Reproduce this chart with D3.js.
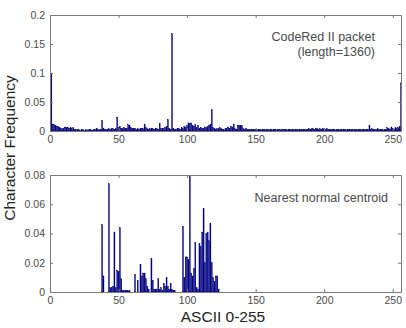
<!DOCTYPE html>
<html><head><meta charset="utf-8">
<script src="https://cdn.jsdelivr.net/npm/d3@7/dist/d3.min.js"></script>
<style>body{margin:0;background:#fff}svg{display:block;font-family:"Liberation Sans",Arial,sans-serif}</style>
</head><body><svg id="c" width="406" height="328"></svg>
<script>
// Bar positions 1..256 correspond to ASCII codes 0..255
const xTicks = [0, 50, 100, 150, 200, 250];
const topYTicks = [0, 0.05, 0.1, 0.15, 0.2];
const botYTicks = [0, 0.02, 0.04, 0.06, 0.08];

// CodeRed II packet character frequency (positions 1..256)
const codeRedFreq = [
 0.100,0.012,0.011,0.009,0.008,0.008,0.006,0.004,0.004,0.005,
 0.007,0.006,0.006,0.005,0.006,0.004,0.006,0.003,0.002,0.002,
 0.002,0.001,0.002,0.002,0.001,0.002,0.001,0.002,0.003,0.002,
 0.001,0.002,0.003,0.005,0.002,0.002,0.003,0.018,0.004,0.002,
 0.003,0.003,0.004,0.003,0.005,0.004,0.003,0.004,0.024,0.006,
 0.008,0.005,0.004,0.006,0.004,0.005,0.011,0.010,0.006,0.005,
 0.004,0.005,0.003,0.004,0.003,0.004,0.005,0.004,0.012,0.006,
 0.004,0.003,0.004,0.005,0.004,0.003,0.004,0.004,0.003,0.013,
 0.004,0.005,0.004,0.006,0.008,0.020,0.005,0.003,0.168,0.004,
 0.002,0.003,0.005,0.004,0.003,0.006,0.004,0.008,0.007,0.009,
 0.014,0.013,0.014,0.010,0.008,0.011,0.006,0.010,0.005,0.006,
 0.005,0.004,0.007,0.006,0.008,0.010,0.011,0.037,0.006,0.004,
 0.003,0.004,0.005,0.006,0.004,0.003,0.002,0.004,0.005,0.007,
 0.004,0.008,0.007,0.012,0.004,0.003,0.010,0.010,0.009,0.009,
 0.004,0.003,0.005,0.002,0.002,0.003,0.002,0.002,0.003,0.002,
 0.002,0.003,0.002,0.002,0.003,0.002,0.002,0.003,0.002,0.002,
 0.003,0.002,0.002,0.003,0.002,0.002,0.003,0.002,0.002,0.003,
 0.003,0.002,0.002,0.003,0.002,0.003,0.002,0.002,0.003,0.002,
 0.002,0.003,0.002,0.003,0.003,0.002,0.003,0.003,0.004,0.003,
 0.004,0.004,0.003,0.005,0.004,0.003,0.004,0.003,0.005,0.003,
 0.003,0.004,0.003,0.002,0.003,0.002,0.003,0.002,0.002,0.003,
 0.002,0.003,0.002,0.003,0.002,0.002,0.003,0.002,0.003,0.002,
 0.002,0.003,0.002,0.002,0.003,0.002,0.002,0.003,0.003,0.002,
 0.002,0.003,0.010,0.003,0.004,0.003,0.002,0.003,0.004,0.003,
 0.002,0.003,0.002,0.002,0.003,0.006,0.004,0.003,0.007,0.005,
 0.003,0.006,0.004,0.006,0.008,0.083
];

// Nearest normal centroid: sparse (position, value) pairs; other positions are 0
const centroidPos = [38,39,43,44,45,46,47,48,49,50,51,52,53,54,55,56,57,58,
 62,64,66,67,68,69,70,71,72,74,75,76,77,78,79,80,81,82,83,84,85,86,87,88,89,90,91,
 97,98,99,100,101,102,103,104,105,106,107,108,109,110,111,112,113,114,115,116,117,118,119,120,121,122,123];
const centroidVal = [0.046,0.011,0.074,0.003,0.003,0.004,0.041,0.003,0.015,0.014,0.044,0.009,0.001,0.001,0.001,0.001,0.001,0.001,
 0.012,0.008,0.019,0.011,0.013,0.013,0.009,0.004,0.002,0.023,0.008,0.002,0.002,0.002,0.009,0.002,0.003,0.001,0.006,0.004,0.010,0.004,0.002,0.006,0.002,0.001,0.001,
 0.045,0.010,0.024,0.024,0.022,0.079,0.013,0.011,0.016,0.034,0.003,0.002,0.033,0.031,0.041,0.057,0.020,0.040,0.041,0.035,0.047,0.020,0.010,0.007,0.011,0.011,0.002];

const topLabel = ["CodeRed II packet", "(length=1360)"];
const botLabel = "Nearest normal centroid";

const svg = d3.select("#c");
const L = 50, R = 401;
const x = d3.scaleLinear().domain([0, 256]).range([L, R]);
const barColor = "#000080";
const axisColor = "#7a7a7a";
const textColor = "#4a4a4a";

function panel(top, bottom, ymax, yTicks, data, fmt) {
  const y = d3.scaleLinear().domain([0, ymax]).range([bottom, top]);
  const g = svg.append("g");
  const bw = (x(1) - x(0)) * 0.8;
  g.selectAll("rect").data(data.filter(d => d.v > 0)).join("rect")
    .attr("x", d => x(d.p) - bw / 2)
    .attr("width", bw)
    .attr("y", d => y(d.v))
    .attr("height", d => y(0) - y(d.v))
    .attr("fill", barColor)
    .attr("stroke", barColor)
    .attr("stroke-width", 0.3);
  const ax = g.append("g").attr("transform", `translate(0,${bottom})`)
    .call(d3.axisBottom(x).tickValues(xTicks).tickSizeInner(-3).tickSizeOuter(0).tickPadding(5));
  const ax2 = g.append("g").attr("transform", `translate(0,${top})`)
    .call(d3.axisTop(x).tickValues(xTicks).tickSizeInner(-3).tickSizeOuter(0).tickFormat(""));
  const ay = g.append("g").attr("transform", `translate(${L},0)`)
    .call(d3.axisLeft(y).tickValues(yTicks).tickSizeInner(-3).tickSizeOuter(0).tickPadding(5).tickFormat(fmt));
  const ay2 = g.append("g").attr("transform", `translate(${R},0)`)
    .call(d3.axisRight(y).tickValues(yTicks).tickSizeInner(-3).tickSizeOuter(0).tickFormat(""));
  [ax, ax2, ay, ay2].forEach(a => {
    a.selectAll("path,line").attr("stroke", axisColor);
    a.selectAll("text").attr("fill", textColor).style("font-size", "10.5px");
  });
  return y;
}

const topData = codeRedFreq.map((v, i) => ({p: i + 1, v}));
const botData = centroidPos.map((p, i) => ({p, v: centroidVal[i]}));

panel(15, 131, 0.2, topYTicks, topData, d => d === 0 ? "0" : String(+d.toFixed(2)));
panel(175, 292, 0.08, botYTicks, botData, d => d === 0 ? "0" : d.toFixed(2));

svg.append("text").attr("x", 375).attr("y", 41).attr("text-anchor", "end")
  .attr("fill", textColor).style("font-size", "12.5px").text(topLabel[0]);
svg.append("text").attr("x", 375).attr("y", 56).attr("text-anchor", "end")
  .attr("fill", textColor).style("font-size", "12.5px").text(topLabel[1]);
svg.append("text").attr("x", 388).attr("y", 201.5).attr("text-anchor", "end")
  .attr("fill", textColor).style("font-size", "12.5px").text(botLabel);

svg.append("text").attr("x", 223).attr("y", 322).attr("text-anchor", "middle")
  .attr("fill", "#222").style("font-size", "15.5px").text("ASCII 0-255");
svg.append("text").attr("transform", "translate(15,148) rotate(-90)").attr("text-anchor", "middle")
  .attr("fill", "#222").style("font-size", "15.5px").text("Character Frequency");
</script></body></html>
